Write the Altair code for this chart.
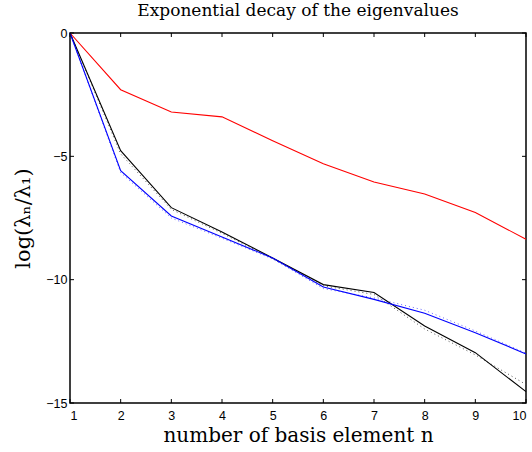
import altair as alt
import pandas as pd

n = [1, 2, 3, 4, 5, 6, 7, 8, 9, 10]
red = [0, -2.3, -3.2, -3.4, -4.37, -5.3, -6.04, -6.53, -7.28, -8.36]
black = [0, -4.77, -7.08, -8.07, -9.12, -10.2, -10.52, -11.88, -12.96, -14.54]
black_dot = [0, -4.9, -7.15, -8.12, -9.15, -10.25, -10.6, -12.0, -13.05, -14.25]
blue = [0, -5.58, -7.42, -8.27, -9.12, -10.3, -10.8, -11.36, -12.15, -13.01]
blue_dot = [0, -5.66, -7.5, -8.32, -9.16, -10.36, -10.74, -11.24, -12.08, -12.98]

x_ticks = n
y_ticks = [-15, -10, -5, 0]

W, H = 456, 370

xs = alt.Scale(domain=[1, 10], nice=False, zero=False)
ys = alt.Scale(domain=[-15, 0], nice=False, zero=False)

lab_font = "Liberation Sans"
ser_font = "DejaVu Serif"

x_axis = alt.Axis(values=x_ticks, format="d", ticks=False, domain=False, grid=False,
                  labelFont=lab_font, labelFontSize=12.5, labelPadding=6, labelColor="black",
                  title="number of basis element n", titleFont=ser_font, titleFontSize=20,
                  titleFontWeight="normal", titleColor="black", titlePadding=4)
y_axis = alt.Axis(values=y_ticks, format="d", ticks=False, domain=False, grid=False,
                  labelFont=lab_font, labelFontSize=12.5, labelPadding=3, labelColor="black",
                  title="log(λₙ/λ₁)", titleFont=ser_font, titleFontSize=21,
                  titleFontWeight="normal", titleColor="black", titlePadding=12)


def series_line(vals, color, dash=None, width=1.1, opacity=1.0):
    df = pd.DataFrame({"n": n, "v": vals})
    kw = dict(color=color, strokeWidth=width, opacity=opacity)
    if dash:
        kw["strokeDash"] = dash
    return alt.Chart(df).mark_line(**kw).encode(
        x=alt.X("n:Q", scale=xs, axis=x_axis),
        y=alt.Y("v:Q", scale=ys, axis=y_axis),
    )


layers = [
    series_line(black_dot, "#555555", dash=[1, 3], width=1.0),
    series_line(blue_dot, "#6666ff", dash=[1, 3], width=1.0),
    series_line(red, "#ff0000"),
    series_line(black, "#000000"),
    series_line(blue, "#0000ff"),
]

xt = pd.DataFrame({"t": x_ticks})
yt = pd.DataFrame({"t": y_ticks})
tick_x_bottom = alt.Chart(xt).mark_rule(color="black", strokeWidth=1).encode(
    x=alt.X("t:Q", scale=xs), y=alt.value(H), y2=alt.value(H - 4))
tick_x_top = alt.Chart(xt).mark_rule(color="black", strokeWidth=1).encode(
    x=alt.X("t:Q", scale=xs), y=alt.value(0), y2=alt.value(4))
tick_y_left = alt.Chart(yt).mark_rule(color="black", strokeWidth=1).encode(
    y=alt.Y("t:Q", scale=ys), x=alt.value(0), x2=alt.value(4))
tick_y_right = alt.Chart(yt).mark_rule(color="black", strokeWidth=1).encode(
    y=alt.Y("t:Q", scale=ys), x=alt.value(W), x2=alt.value(W - 4))

chart = alt.layer(*layers, tick_x_bottom, tick_x_top, tick_y_left, tick_y_right).properties(
    width=W, height=H,
    title=alt.TitleParams("Exponential decay of the eigenvalues", font=ser_font, fontSize=17,
                          fontWeight="normal", color="black", offset=7),
    autosize=alt.AutoSizeParams(type="none"),
    padding={"left": 70, "top": 33, "right": 6, "bottom": 49},
    background="white",
).configure_view(stroke="black", strokeWidth=1.5)

chart.save("out.html", embed_options={"renderer": "svg", "actions": False})
